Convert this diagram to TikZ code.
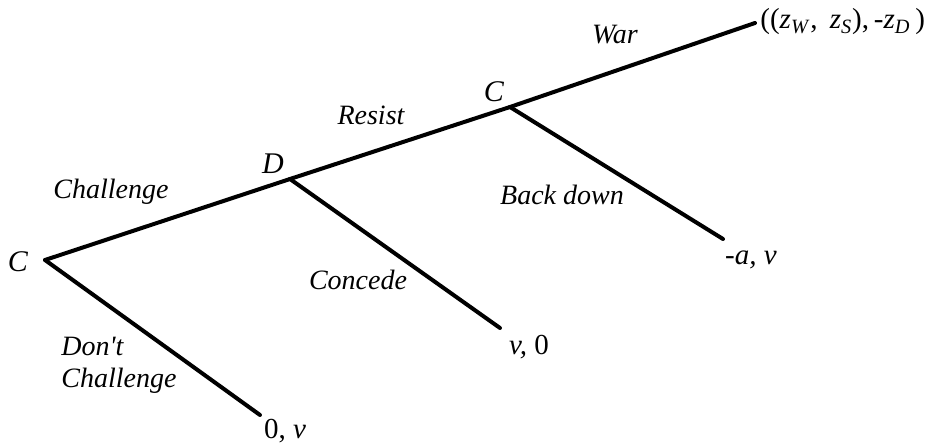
\documentclass[tikz,border=0pt]{standalone}
\usepackage{fontspec}
\setmainfont{Liberation Serif}
\newfontfamily\plainquote{Liberation Serif}[Ligatures=ResetAll]
\usetikzlibrary{positioning}
\tikzset{
  gamemove/.style={line width=2pt, line cap=round},
  gamelabel/.style={font=\fontsize{14}{16}\selectfont\itshape, align=left, inner sep=1pt},
  gameplayer/.style={font=\fontsize{15}{17}\selectfont\itshape, inner sep=1pt},
  gamepay/.style={font=\fontsize{14.5}{16}\selectfont, inner sep=1pt}
}
\newcommand{\zsub}[1]{\textit{z}\textsubscript{\textit{#1}}}

\begin{document}
\begin{tikzpicture}[x=0.5pt, y=-0.5pt]
\useasboundingbox (0,0) rectangle (928,443);
% decision nodes
\coordinate (root) at (45,260);
\coordinate (defend) at (290,179);
\coordinate (again) at (510,107);
\node[gameplayer] (rootC) at (18,262) {C};
\node[gameplayer] (defD) at (273,164) {D};
\node[gameplayer] (againC) at (494,92) {C};
% terminal payoffs
\coordinate (warend) at (755,23);
\coordinate (dcend) at (260,415);
\coordinate (cdend) at (500,328);
\coordinate (bdend) at (723,239);
\node[gamepay, anchor=west] (payW) at (758,22) {((\zsub{W},\, \zsub{S}),\,-\zsub{D}\,)};
\node[gamepay] (payDC) at (285,431) {0, \textit{v}};
\node[gamepay] (payCD) at (529,347) {\textit{v,} 0};
\node[gamepay] (payBD) at (751,260) {\textit{-a, v}};
% moves
\draw[gamemove] (root) -- (defend);
\draw[gamemove] (defend) -- (again);
\draw[gamemove] (again) -- (warend);
\draw[gamemove] (root) -- (dcend);
\draw[gamemove] (defend) -- (cdend);
\draw[gamemove] (again) -- (bdend);
% action labels
\node[gamelabel] (lchal) at (111,192) {Challenge};
\node[gamelabel] (lres) at (371,115) {Resist};
\node[gamelabel] (lwar) at (615,35) {War};
\node[gamelabel] (lcon) at (358,280) {Concede};
\node[gamelabel] (lback) at (562,195) {Back down};
\node[gamelabel] (ldont) at (119,365) {Don{\plainquote\itshape '}t\\Challenge};
\end{tikzpicture}
\end{document}
